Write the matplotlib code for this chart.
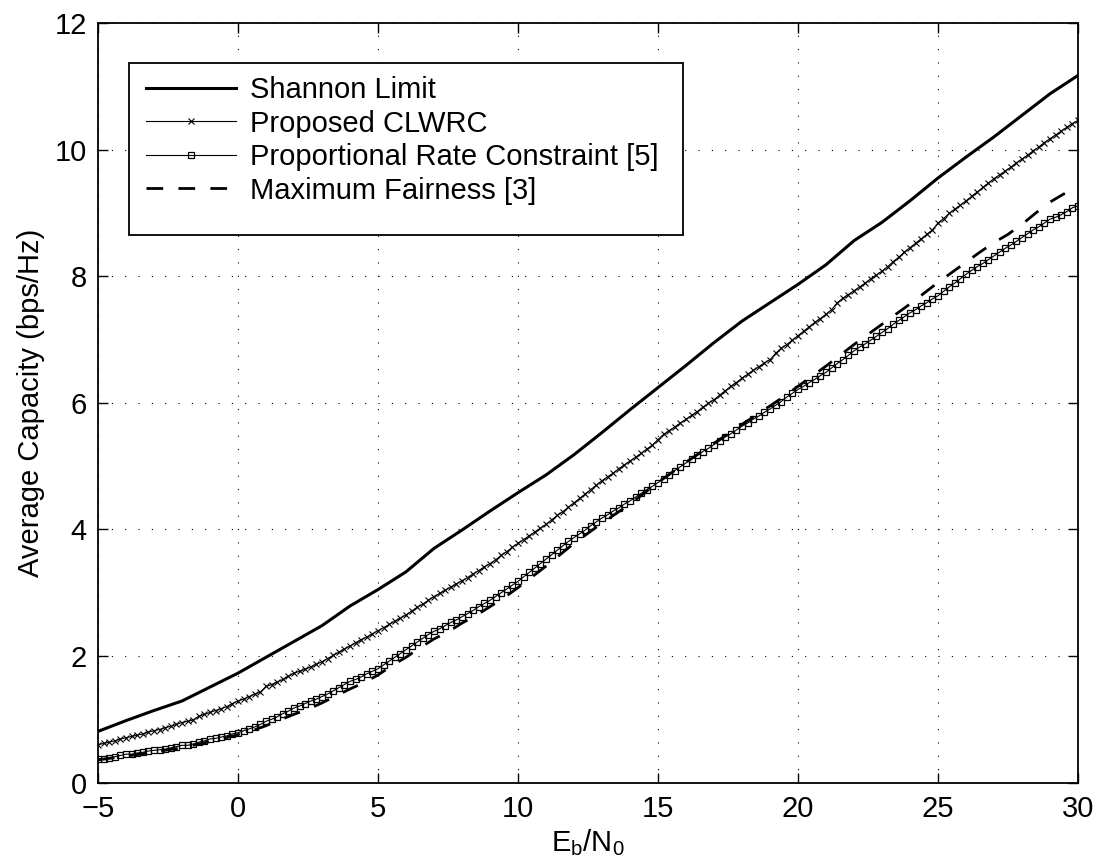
import numpy as np
import matplotlib
matplotlib.use("Agg")
import matplotlib.pyplot as plt
from matplotlib.patches import Rectangle

plt.rcParams['font.family'] = ['Liberation Sans', 'DejaVu Sans']
plt.rcParams['mathtext.fontset'] = 'custom'
plt.rcParams['mathtext.rm'] = 'Liberation Sans'

# Eb/N0 grids (dB)
snr_shannon = list(range(-5, 31))
snr_fine = [round(-5 + 0.2 * i, 1) for i in range(176)]
snr_mf = [round(-5 + 0.5 * i, 1) for i in range(71)]

shannon = [0.81, 0.98, 1.14, 1.29, 1.51, 1.73, 1.98, 2.23, 2.48, 2.79,
           3.05, 3.33, 3.70, 3.99, 4.29, 4.58, 4.86, 5.18, 5.53, 5.89,
           6.24, 6.59, 6.95, 7.29, 7.58, 7.87, 8.18, 8.56, 8.85, 9.19,
           9.55, 9.88, 10.20, 10.54, 10.88, 11.17]

clwrc = [0.60, 0.62, 0.64, 0.66, 0.69,
         0.71, 0.73, 0.75, 0.77, 0.80,
         0.82, 0.84, 0.87, 0.89, 0.92,
         0.95, 0.97, 0.99, 1.05, 1.08,
         1.11, 1.14, 1.17, 1.20, 1.25,
         1.29, 1.32, 1.36, 1.40, 1.43,
         1.52, 1.55, 1.59, 1.63, 1.68,
         1.73, 1.76, 1.79, 1.83, 1.87,
         1.91, 1.96, 2.01, 2.06, 2.11,
         2.16, 2.21, 2.26, 2.30, 2.35,
         2.40, 2.45, 2.50, 2.55, 2.60,
         2.65, 2.71, 2.77, 2.82, 2.88,
         2.94, 2.99, 3.04, 3.09, 3.14,
         3.19, 3.24, 3.30, 3.35, 3.41,
         3.46, 3.52, 3.59, 3.65, 3.72,
         3.78, 3.84, 3.90, 3.96, 4.02,
         4.08, 4.15, 4.22, 4.28, 4.35,
         4.42, 4.49, 4.56, 4.63, 4.70,
         4.77, 4.83, 4.89, 4.96, 5.02,
         5.08, 5.14, 5.20, 5.27, 5.33,
         5.42, 5.50, 5.56, 5.62, 5.68,
         5.74, 5.80, 5.86, 5.93, 5.99,
         6.05, 6.12, 6.19, 6.26, 6.32,
         6.39, 6.45, 6.51, 6.57, 6.63,
         6.68, 6.78, 6.86, 6.92, 6.99,
         7.06, 7.13, 7.20, 7.27, 7.33,
         7.40, 7.47, 7.58, 7.65, 7.71,
         7.77, 7.83, 7.89, 7.96, 8.02,
         8.08, 8.15, 8.23, 8.30, 8.38,
         8.45, 8.52, 8.59, 8.66, 8.73,
         8.84, 8.91, 8.99, 9.06, 9.12,
         9.19, 9.26, 9.33, 9.40, 9.47,
         9.54, 9.60, 9.66, 9.72, 9.79,
         9.85, 9.91, 9.98, 10.04, 10.11,
         10.17, 10.23, 10.29, 10.35, 10.41,
         10.46]

prc = [0.38, 0.38, 0.39, 0.41, 0.43,
       0.45, 0.45, 0.47, 0.48, 0.50,
       0.51, 0.52, 0.53, 0.55, 0.57,
       0.59, 0.59, 0.61, 0.64, 0.66,
       0.69, 0.70, 0.72, 0.74, 0.77,
       0.79, 0.82, 0.85, 0.88, 0.92,
       0.97, 1.00, 1.04, 1.09, 1.13,
       1.18, 1.21, 1.25, 1.29, 1.32,
       1.36, 1.40, 1.45, 1.50, 1.55,
       1.60, 1.63, 1.67, 1.72, 1.76,
       1.80, 1.86, 1.92, 1.98, 2.04,
       2.10, 2.16, 2.22, 2.28, 2.34,
       2.39, 2.43, 2.48, 2.53, 2.57,
       2.62, 2.67, 2.72, 2.78, 2.83,
       2.88, 2.94, 3.00, 3.06, 3.12,
       3.18, 3.25, 3.32, 3.39, 3.46,
       3.53, 3.60, 3.67, 3.74, 3.81,
       3.87, 3.93, 3.99, 4.06, 4.12,
       4.18, 4.23, 4.29, 4.34, 4.40,
       4.45, 4.51, 4.57, 4.63, 4.68,
       4.74, 4.80, 4.86, 4.93, 4.99,
       5.05, 5.11, 5.17, 5.23, 5.28,
       5.34, 5.40, 5.46, 5.51, 5.57,
       5.63, 5.68, 5.74, 5.79, 5.85,
       5.90, 5.96, 6.02, 6.09, 6.15,
       6.21, 6.26, 6.32, 6.37, 6.43,
       6.48, 6.55, 6.62, 6.68, 6.75,
       6.82, 6.88, 6.93, 6.99, 7.05,
       7.11, 7.17, 7.24, 7.30, 7.36,
       7.42, 7.47, 7.53, 7.58, 7.64,
       7.69, 7.76, 7.83, 7.89, 7.96,
       8.03, 8.09, 8.15, 8.20, 8.26,
       8.32, 8.38, 8.44, 8.49, 8.55,
       8.61, 8.67, 8.73, 8.78, 8.84,
       8.90, 8.93, 8.97, 9.02, 9.08,
       9.11]

max_fair = [0.36, 0.39, 0.42, 0.45, 0.48, 0.52, 0.55, 0.60, 0.65, 0.70,
            0.76, 0.82, 0.90, 0.99, 1.08, 1.16, 1.26, 1.37, 1.48, 1.58,
            1.70, 1.85, 1.98, 2.13, 2.27, 2.38, 2.52, 2.64, 2.78, 2.92,
            3.08, 3.25, 3.42, 3.60, 3.78, 3.94, 4.10, 4.25, 4.40, 4.57,
            4.74, 4.90, 5.06, 5.21, 5.36, 5.51, 5.66, 5.80, 5.95, 6.10,
            6.26, 6.42, 6.58, 6.75, 6.92, 7.08, 7.24, 7.40, 7.56, 7.73,
            7.90, 8.06, 8.22, 8.38, 8.53, 8.66, 8.82, 9.00, 9.17, 9.30,
            9.43]

labels = ["Shannon Limit", "Proposed CLWRC",
          "Proportional Rate Constraint [5]", "Maximum Fairness [3]"]

FS = 21

fig = plt.figure(figsize=(10.97, 8.66), dpi=100)
ax = fig.add_axes([0.0893, 0.0962, 0.8934, 0.8774])

ax.plot(snr_shannon, shannon, color='k', lw=2.2, label=labels[0])
ax.plot(snr_fine, clwrc, color='k', lw=0.8, marker='x', ms=4, mew=0.8,
        label=labels[1])
ax.plot(snr_fine, prc, color='k', lw=0.8, marker='s', ms=4.5, mew=0.9,
        mfc='none', label=labels[2])
ax.plot(snr_mf, max_fair, color='k', lw=2.0, dashes=(6, 5.5),
        label=labels[3])

ax.set_xlim(-5, 30)
ax.set_ylim(0, 12)
ax.set_xticks(range(-5, 31, 5))
ax.set_yticks(range(0, 13, 2))
ax.tick_params(direction='in', length=7, width=1, labelsize=FS,
               top=True, right=True)
ax.tick_params(axis='x', pad=9)
ax.tick_params(axis='y', pad=8)
for sp in ax.spines.values():
    sp.set_linewidth(1.3)
ax.grid(True, color='k', lw=0.8, linestyle=(0, (1, 11)))

ax.set_xlabel(r'E$_\mathregular{b}$/N$_\mathregular{0}$', fontsize=FS,
              labelpad=3)
ax.set_ylabel('Average Capacity (bps/Hz)', fontsize=FS, labelpad=7)

# MATLAB-style legend box (more room below the entries than above)
box = Rectangle((0.0316, 0.7207), 0.5654, 0.2263, transform=ax.transAxes,
                facecolor='white', edgecolor='k', lw=1.3, zorder=4)
ax.add_patch(box)
leg = ax.legend(loc='upper left', bbox_to_anchor=(0.049, 0.930),
                borderaxespad=0, borderpad=0, fontsize=FS,
                handlelength=3.1, handletextpad=0.47, labelspacing=0.19,
                frameon=False)
leg.set_zorder(5)

fig.savefig("out.png", dpi=100)
